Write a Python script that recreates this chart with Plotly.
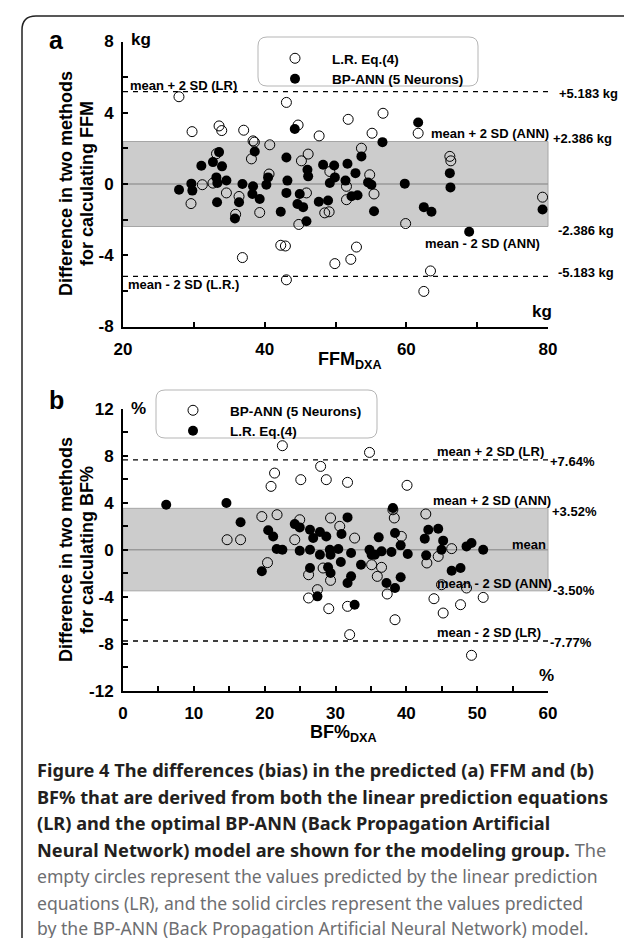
import plotly.graph_objects as go

W, H = 632, 938

# ---------------- data ----------------
# Panel a: FFM, open circles = L.R. Eq.(4), filled = BP-ANN (5 Neurons)
ffm_lr_x = [27.9, 29.75, 33.56, 33.94, 37.04, 38.36, 38.55, 40.72, 31.2, 32.7, 34.6, 36.38,
            29.6, 35.9, 39.3, 36.86, 33.2, 38.13,
            43.07, 44.72, 51.79, 56.71, 47.69, 55.16, 53.66, 46.14, 45.19, 40.62, 54.83, 55.44,
            51.55, 49.2, 45.9, 48.48, 49.1, 44.82, 51.55, 59.9, 42.27, 42.93, 52.96, 52.16,
            49.91, 43.07,
            61.67, 66.14, 66.28, 79.23, 63.41, 62.47]
ffm_lr_y = [4.9, 2.94, 3.26, 3.0, 3.02, 2.42, 2.35, 2.2, -0.04, 0.05, -0.5, -0.7,
            -1.1, -1.7, -1.6, -4.13, 1.7, 1.41,
            4.58, 3.31, 3.63, 3.97, 2.7, 2.85, 2.01, 1.68, 1.3, 0.56, 0.52, -0.56,
            -0.13, 0.7, -0.5, -1.62, -1.56, -2.27, -0.88, -2.22, -3.44, -3.48, -3.54, -4.23,
            -4.47, -5.38,
            2.85, 1.55, 1.3, -0.74, -4.88, -6.03]
ffm_ann_x = [27.91, 29.65, 29.79, 31.06, 32.7, 33.56, 33.98, 33.18, 33.32, 34.6, 33.28, 36.38,
             35.8, 36.86, 38.36, 38.27, 39.3, 38.6, 40.48, 40.24,
             44.25, 56.63, 53.66, 43.07, 46.04, 46.14, 48.25, 49.81, 51.69, 52.82, 49.91, 49.2,
             51.41, 54.6, 55.07, 59.78, 43.21, 43.07, 44.95, 44.63, 45.43, 47.64, 48.95, 52.26,
             53.11, 55.44, 42.27, 45.9,
             61.67, 66.14, 66.23, 62.47, 63.55, 68.87, 79.23]
ffm_ann_y = [-0.32, 0.02, -0.37, 1.02, 1.23, 1.79, 0.99, 0.37, 0.06, 0.2, -1.02, -1.02,
             -1.94, 0.0, -0.13, -0.56, -0.84, 1.82, 0.37, -0.04,
             3.09, 2.35, 1.55, 1.49, 0.8, 0.43, 1.08, 1.04, 1.14, 0.61, 0.37, 0.06,
             0.19, 0.09, -0.04, 0.02, 0.19, -0.5, -0.56, -1.12, -1.3, -1.0, -0.93, -0.69,
             -0.63, -1.53, -1.56, -2.09,
             3.45, 0.61, -0.19, -1.3, -1.56, -2.68, -1.43]

# Panel b: BF%, open circles = BP-ANN (5 Neurons), filled = L.R. Eq.(4)
bf_ann_x = [14.7, 16.6, 19.6, 20.9, 20.4, 22.5, 34.8, 27.9, 21.4, 25.1, 28.7, 31.7, 40.1,
            21.75, 24.95, 29.3, 30.6, 32.7, 24.25, 38.1, 38.3, 39.3, 26.2, 28.25, 29.3,
            35.1, 35.9, 36.5, 37.3, 27.45, 26.2, 29.05, 31.7, 38.4, 32.0,
            42.75, 46.4, 44.5, 42.9, 44.96, 48.5, 43.9, 50.85, 47.65, 45.2, 49.2]
bf_ann_y = [0.85, 0.85, 2.82, 5.39, -1.1, 8.85, 8.28, 7.09, 6.52, 5.96, 5.96, 5.73, 5.48,
            2.98, 2.55, 2.7, 1.99, 0.99, 0.85, 3.4, 2.7, 1.13, -2.13, -1.56, -2.61,
            -1.28, -2.27, -1.5, -3.77, -3.4, -4.11, -5.02, -4.82, -5.96, -7.23,
            3.04, 0.09, -0.57, -1.13, -2.98, -3.26, -4.17, -4.06, -4.68, -5.39, -8.99]
bf_lr_x = [6.1, 14.6, 16.6, 19.6, 20.5,
           24.25, 24.95, 26.4, 27.8, 28.7, 26.85, 31.7, 30.85, 21.2, 21.7, 22.5, 24.95, 26.4,
           27.8, 29.2, 30.4, 29.3, 32.2, 30.75, 26.4, 28.95, 29.3, 32.2, 31.7, 27.45, 32.7,
           33.6, 34.8, 35.55, 36.1, 36.5, 37.9, 38.1, 38.4, 39.2, 40.2, 37.2, 38.4, 39.2, 35.1,
           43.1, 44.5, 42.6, 45.2, 44.96, 42.8, 48.5, 49.2, 50.85, 46.4, 47.65]
bf_lr_y = [3.83, 3.97, 2.33, -1.84, 1.65,
           2.18, 1.9, 1.7, 1.5, 1.13, 0.99, 2.75, 1.33, 1.13, 0.06, 0.0, -0.09, 0.0,
           -0.43, 0.0, 0.06, -0.43, -0.28, -1.05, -1.56, -1.5, -1.99, -2.27, -2.84, -3.97, -4.68,
           -1.28, 0.0, -0.43, 1.05, -0.14, -0.2, 3.55, 1.42, 0.37, -0.37, -2.84, -3.26, -2.35, -0.43,
           1.7, 1.79, 0.94, 0.77, 0.0, -0.48, 0.28, 0.57, 0.0, -1.79, -1.56]

# limits of agreement
ffm_ann_limit = 2.386
ffm_lr_limit = 5.183
bf_ann_upper, bf_ann_lower = 3.52, -3.50
bf_lr_upper, bf_lr_lower = 7.64, -7.77

# axis ranges and tick labels
ffm_x_range = [20, 80]
ffm_y_range = [-8, 8]
bf_x_range = [0, 60]
bf_y_range = [-12, 12]
ffm_x_ticks = [20, 40, 60, 80]
ffm_y_ticks = [-8, -4, 0, 4, 8]
bf_x_ticks = [0, 10, 20, 30, 40, 50, 60]
bf_y_ticks = [-12, -8, -4, 0, 4, 8, 12]

legend_a = ["L.R. Eq.(4)", "BP-ANN (5 Neurons)"]
legend_b = ["BP-ANN (5 Neurons)", "L.R. Eq.(4)"]

caption_lines = [
    ("Figure 4 The differences (bias) in the predicted (a) FFM and (b)", ""),
    ("BF% that are derived from both the linear prediction equations", ""),
    ("(LR) and the optimal BP-ANN (Back Propagation Artificial", ""),
    ("Neural Network) model are shown for the modeling group.", " The"),
    ("", "empty circles represent the values predicted by the linear prediction"),
    ("", "equations (LR), and the solid circles represent the values predicted"),
    ("", "by the BP-ANN (Back Propagation Artificial Neural Network) model."),
]

# ---------------- helpers ----------------
def px(x):
    return x / W


def py(y):
    return 1 - y / H


AX_FONT = "Liberation Sans, Arial, sans-serif"
CAP_FONT = "Noto Sans, Open Sans, sans-serif"

fig = go.Figure()

open_marker = dict(symbol="circle-open", size=10, color="black", line=dict(width=1, color="black"))
solid_marker = dict(symbol="circle", size=10, color="black")

fig.add_trace(go.Scatter(x=ffm_lr_x, y=ffm_lr_y, mode="markers", marker=open_marker,
                         name=legend_a[0], xaxis="x", yaxis="y", legend="legend"))
fig.add_trace(go.Scatter(x=ffm_ann_x, y=ffm_ann_y, mode="markers", marker=solid_marker,
                         name=legend_a[1], xaxis="x", yaxis="y", legend="legend"))
fig.add_trace(go.Scatter(x=bf_ann_x, y=bf_ann_y, mode="markers", marker=open_marker,
                         name=legend_b[0], xaxis="x2", yaxis="y2", legend="legend2"))
fig.add_trace(go.Scatter(x=bf_lr_x, y=bf_lr_y, mode="markers", marker=solid_marker,
                         name=legend_b[1], xaxis="x2", yaxis="y2", legend="legend2"))

tickfont = dict(family=AX_FONT, size=17, color="black", weight="bold")


def axis(domain, rng, ticks, minor_dt, anchor, standoff):
    return dict(domain=domain, range=rng, anchor=anchor, showline=True, linewidth=2,
                linecolor="black", ticks="inside", ticklen=5, tickwidth=1.5, tickcolor="black",
                tickmode="array", tickvals=ticks, ticktext=[str(t) for t in ticks],
                minor=dict(tickmode="linear", tick0=0, dtick=minor_dt, ticks="inside",
                           ticklen=5, tickwidth=1.5, tickcolor="black"),
                showgrid=False, zeroline=False, tickfont=tickfont, automargin=False,
                ticklabelstandoff=standoff, fixedrange=True)


xdom = [px(115), px(540)]
fig.update_layout(
    xaxis=axis(xdom, ffm_x_range, ffm_x_ticks, 10, "y", 6),
    yaxis=axis([py(318.5), py(33.5)], ffm_y_range, ffm_y_ticks, 2, "x", 4),
    xaxis2=axis(xdom, bf_x_range, bf_x_ticks, 5, "y2", 6),
    yaxis2=axis([py(682.7), py(400.7)], bf_y_range, bf_y_ticks, 2, "x2", 4),
)

shapes = []


def ref_shapes(xr, yr, lo_band, hi_band, dash_lo, dash_hi):
    return [
        dict(type="rect", xref=xr, yref=yr, x0=0, x1=1, y0=lo_band, y1=hi_band,
             fillcolor="#cccccc", line=dict(color="#a6a6a6", width=1), layer="below"),
        dict(type="line", xref=xr, yref=yr, x0=0, x1=1, y0=0, y1=0,
             line=dict(color="#9a9a9a", width=1.5), layer="below"),
        dict(type="line", xref=xr, yref=yr, x0=0, x1=1, y0=dash_hi, y1=dash_hi,
             line=dict(color="black", width=1.3, dash="5px,5px"), layer="below"),
        dict(type="line", xref=xr, yref=yr, x0=0, x1=1, y0=dash_lo, y1=dash_lo,
             line=dict(color="black", width=1.3, dash="5px,5px"), layer="below"),
    ]


shapes += ref_shapes("x domain", "y", -ffm_ann_limit, ffm_ann_limit, -ffm_lr_limit, ffm_lr_limit)
shapes += ref_shapes("x2 domain", "y2", bf_ann_lower, bf_ann_upper, bf_lr_lower, bf_lr_upper)


def rounded_box(x0, y0, x1, y1, r):
    p = (f"M {px(x0 + r)},{py(y0)} L {px(x1 - r)},{py(y0)} Q {px(x1)},{py(y0)} {px(x1)},{py(y0 + r)} "
         f"L {px(x1)},{py(y1 - r)} Q {px(x1)},{py(y1)} {px(x1 - r)},{py(y1)} "
         f"L {px(x0 + r)},{py(y1)} Q {px(x0)},{py(y1)} {px(x0)},{py(y1 - r)} "
         f"L {px(x0)},{py(y0 + r)} Q {px(x0)},{py(y0)} {px(x0 + r)},{py(y0)} Z")
    return dict(type="path", xref="paper", yref="paper", path=p,
                line=dict(color="#b5b5b5", width=1), fillcolor="white", layer="below")


shapes.append(rounded_box(250, 29, 470, 78, 9))
shapes.append(rounded_box(148, 382, 369, 430, 9))

# outer frame (top-left rounded corner)
frame = (f"M {px(14)},{py(938)} L {px(14)},{py(22)} Q {px(14)},{py(8)} {px(28)},{py(8)} "
         f"L {px(632)},{py(8)}")
shapes.append(dict(type="path", xref="paper", yref="paper", path=frame,
                   line=dict(color="#222222", width=1.5)))

annotations = []


def ann(text, x, y, size=13, xanchor="left", yanchor="middle", angle=0, family=AX_FONT,
        bold=True, color="black"):
    annotations.append(dict(text=text, x=px(x), y=py(y), xref="paper", yref="paper",
                            xanchor=xanchor, yanchor=yanchor, showarrow=False, textangle=angle,
                            font=dict(family=family, size=size, color=color,
                                      weight="bold" if bold else "normal")))


# panel letters
ann("a", 48, 32, size=25, xanchor="center")
ann("b", 48, 392, size=25, xanchor="center")

# y-axis titles (two lines each)
ann("Difference in two methods", 58, 176, size=18, xanchor="center", angle=-90)
ann("for calculating FFM", 79, 176, size=18, xanchor="center", angle=-90)
ann("Difference in two methods", 58, 542, size=18, xanchor="center", angle=-90)
ann("for calculating BF%", 79, 542, size=18, xanchor="center", angle=-90)

# x-axis titles
ann("FFM<sub>DXA</sub>", 342, 352, size=18, xanchor="center")
ann("BF%<sub>DXA</sub>", 336, 725, size=18, xanchor="center")

# unit labels
ann("kg", 121, 32, size=17)
ann("kg", 546, 303, size=17, xanchor="right")
ann("%", 121, 400, size=17)
ann("%", 548, 667, size=17, xanchor="right")

# panel a reference line labels
ann("mean + 2 SD (LR)", 120, 77)
ann(f"+{ffm_lr_limit:.3f} kg", 549, 86)
ann("mean + 2 SD (ANN)", 421, 126)
ann(f"+{ffm_ann_limit:.3f} kg", 543, 130)
ann(f"-{ffm_ann_limit:.3f} kg", 548, 223)
ann("mean - 2 SD (ANN)", 415, 235)
ann(f"-{ffm_lr_limit:.3f} kg", 548, 264)
ann("mean - 2 SD (L.R.)", 118, 277)

# panel b reference line labels
ann("mean + 2 SD (LR)", 427, 443)
ann(f"+{bf_lr_upper:.2f}%", 540, 453)
ann("mean + 2 SD (ANN)", 423, 492)
ann(f"+{bf_ann_upper:.2f}%", 542, 503)
ann("mean", 540, 536, xanchor="right")
ann("mean - 2 SD (ANN)", 427, 575)
ann(f"{bf_ann_lower:.2f}%", 543, 582)
ann("mean - 2 SD (LR)", 427, 624)
ann(f"{bf_lr_lower:.2f}%", 540, 634)

# caption
cap_y = [762, 788.5, 815, 841.5, 868, 894.5, 920]
cap_size = [18.2, 18.2, 18.2, 18.2, 17.6, 17.6, 17.6]
for (bold_part, reg_part), yy, sz in zip(caption_lines, cap_y, cap_size):
    txt = ""
    if bold_part:
        txt += f"<b><span style='color:#231f20'>{bold_part}</span></b>"
    if reg_part:
        txt += reg_part
    ann(txt, 27, yy, size=sz, family=CAP_FONT, bold=False, color="#6d6e71")

legend_common = dict(bgcolor="rgba(0,0,0,0)", borderwidth=0, itemwidth=64,
                     font=dict(family=AX_FONT, size=13.5, color="black", weight="bold"),
                     xanchor="left", yanchor="top", tracegroupgap=0, itemclick=False)

fig.update_layout(
    width=W, height=H, margin=dict(l=0, r=0, t=0, b=0),
    paper_bgcolor="white", plot_bgcolor="rgba(0,0,0,0)",
    shapes=shapes, annotations=annotations, showlegend=True,
    legend=dict(x=px(250), y=py(35), **legend_common),
    legend2=dict(x=px(148), y=py(387), **legend_common),
)

fig.write_html("out.html")
